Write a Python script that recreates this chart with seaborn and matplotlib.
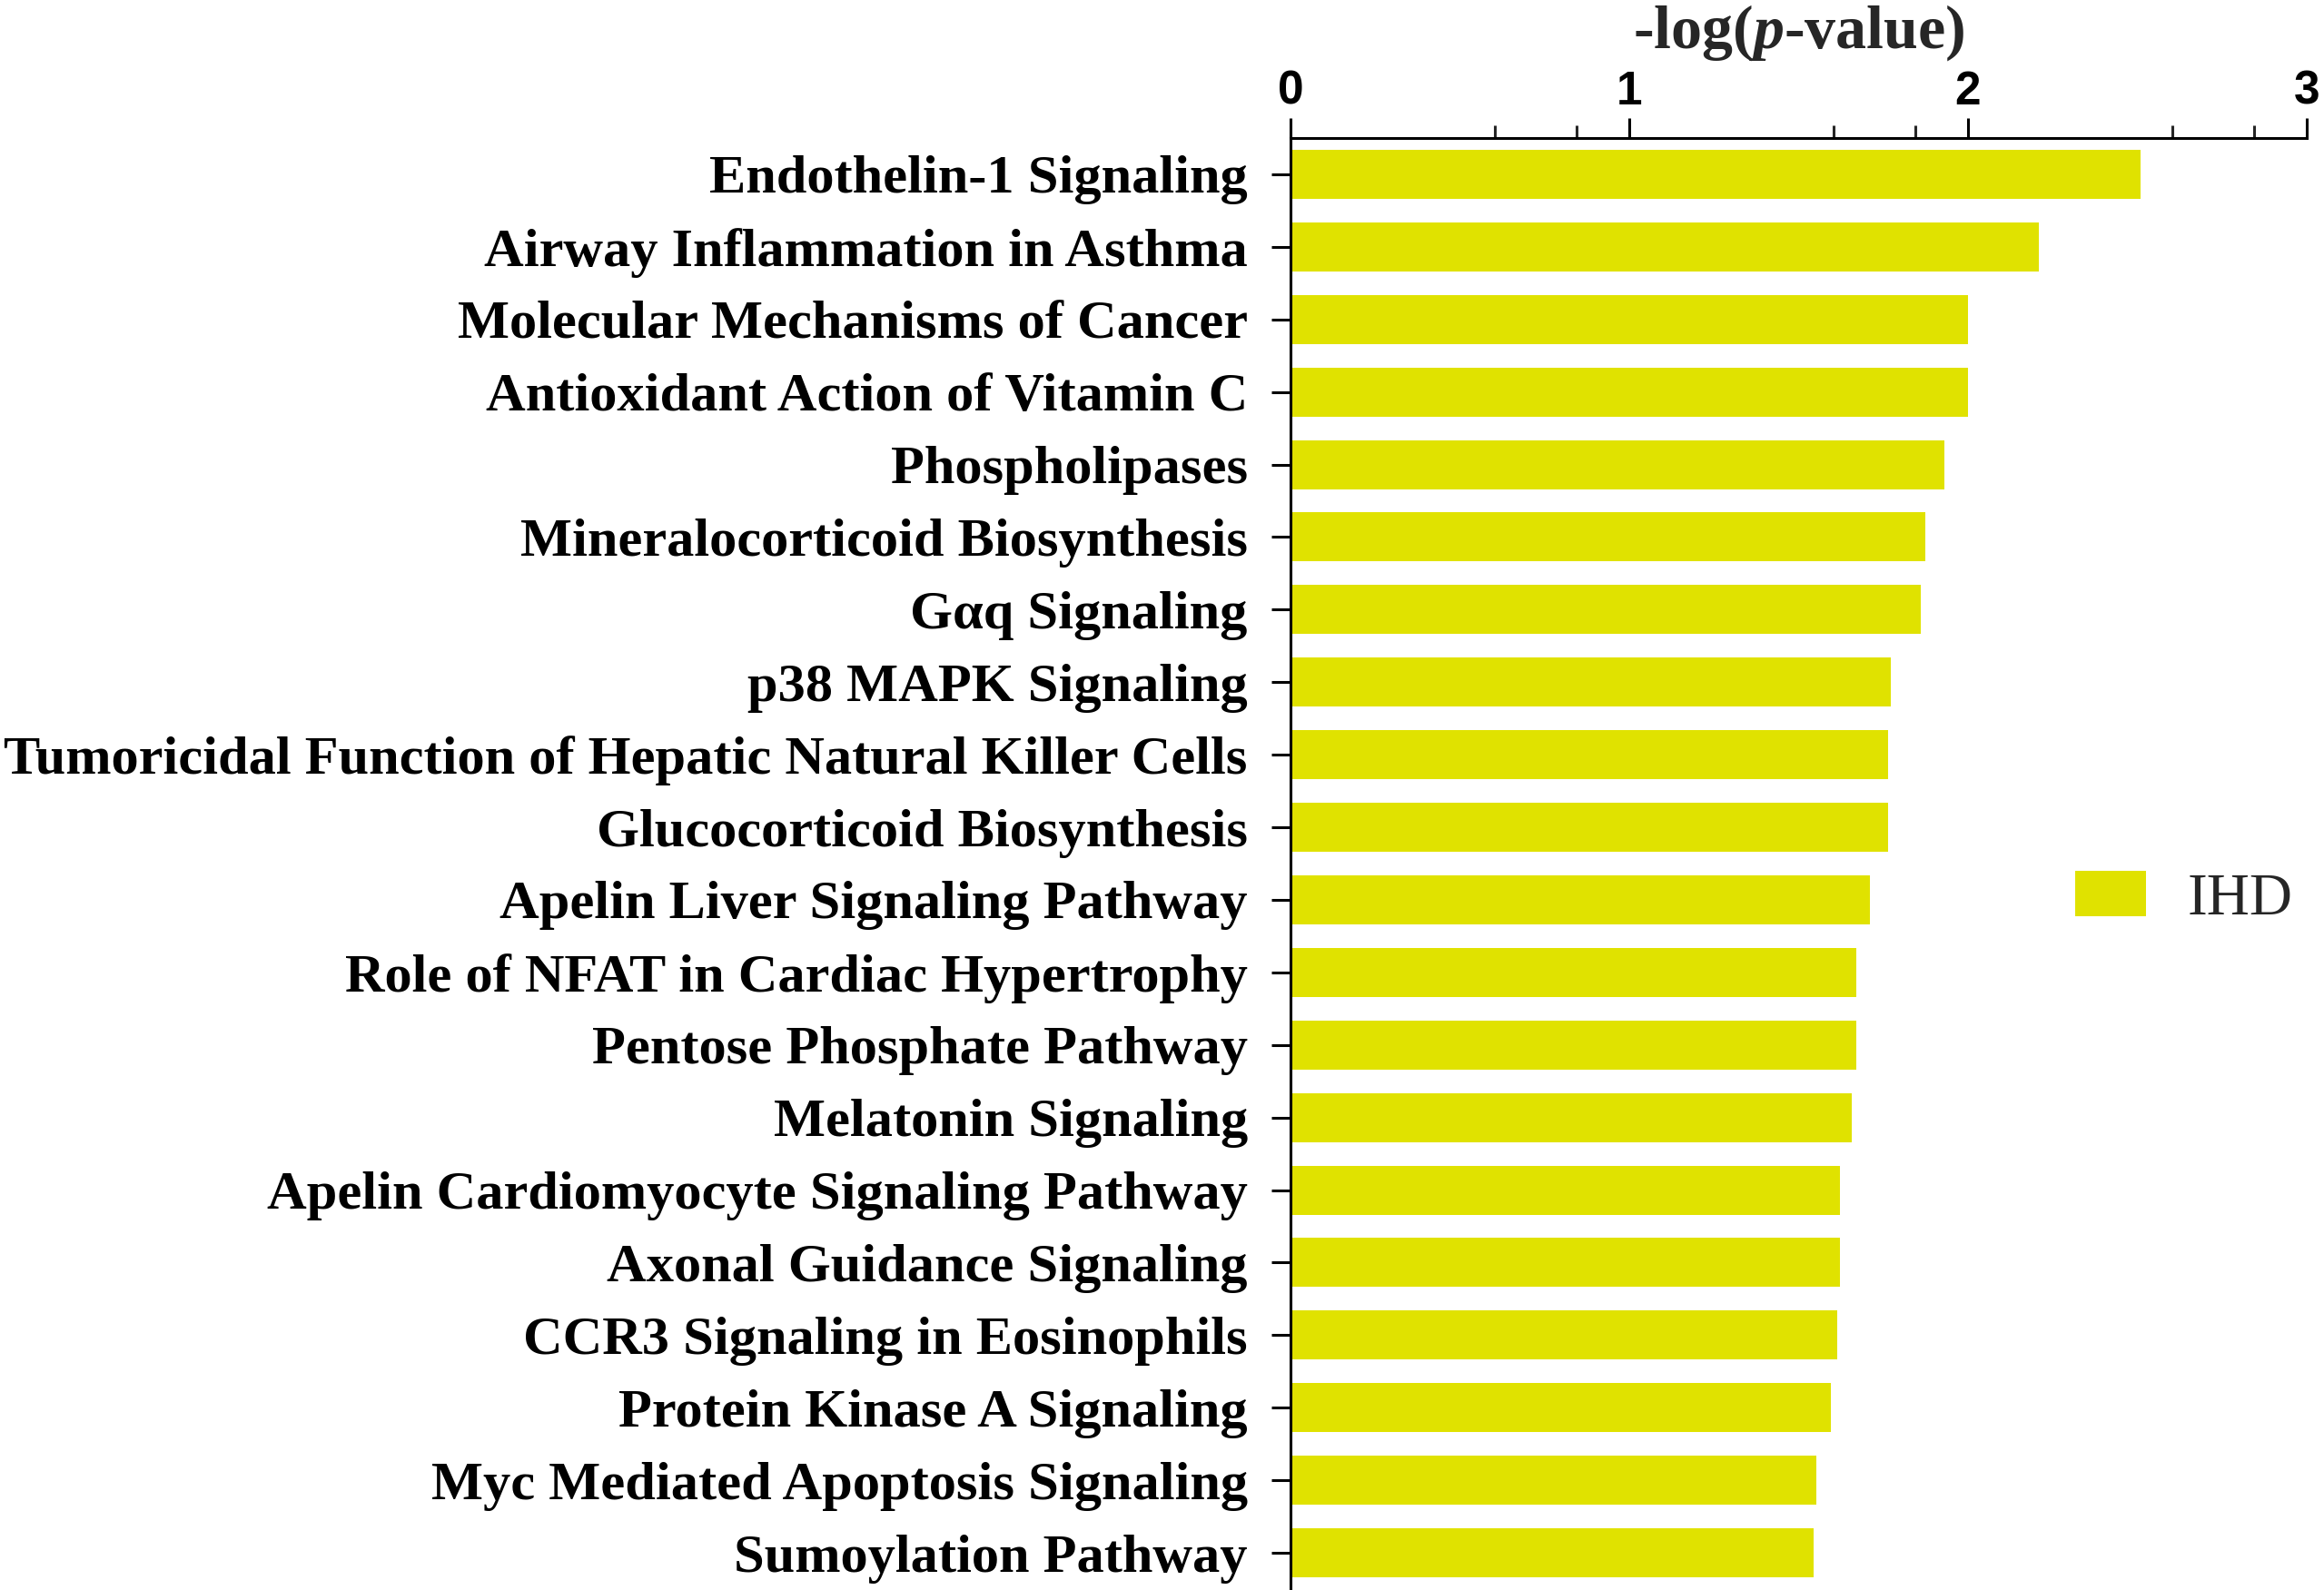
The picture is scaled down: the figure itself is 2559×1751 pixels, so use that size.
import matplotlib
matplotlib.use("Agg")
import matplotlib.pyplot as plt
import seaborn as sns
import pandas as pd
from matplotlib.ticker import FixedLocator

pathways = [
    "Endothelin-1 Signaling",
    "Airway Inflammation in Asthma",
    "Molecular Mechanisms of Cancer",
    "Antioxidant Action of Vitamin C",
    "Phospholipases",
    "Mineralocorticoid Biosynthesis",
    "G\u03b1q Signaling",
    "p38 MAPK Signaling",
    "Tumoricidal Function of Hepatic Natural Killer Cells",
    "Glucocorticoid Biosynthesis",
    "Apelin Liver Signaling Pathway",
    "Role of NFAT in Cardiac Hypertrophy",
    "Pentose Phosphate Pathway",
    "Melatonin Signaling",
    "Apelin Cardiomyocyte Signaling Pathway",
    "Axonal Guidance Signaling",
    "CCR3 Signaling in Eosinophils",
    "Protein Kinase A Signaling",
    "Myc Mediated Apoptosis Signaling",
    "Sumoylation Pathway",
]
neg_log_p = [2.51, 2.21, 2.00, 2.00, 1.93, 1.873, 1.86, 1.772, 1.763, 1.763,
             1.71, 1.671, 1.671, 1.658, 1.623, 1.623, 1.614, 1.594, 1.553, 1.543]
series_name = "IHD"
x_ticks = [0, 1, 2, 3]
x_minor = [0.602, 0.845, 1.602, 1.845, 2.602, 2.845]
bar_color = "#e0e200"

df = pd.DataFrame({"pathway": pathways, "value": neg_log_p,
                   "group": [series_name] * len(pathways)})

sns.set_style("white")
plt.rcParams["font.family"] = ["Liberation Serif", "DejaVu Serif"]
plt.rcParams["mathtext.fontset"] = "custom"
plt.rcParams["mathtext.rm"] = "Liberation Serif:bold"
plt.rcParams["mathtext.it"] = "Liberation Serif:bold:italic"

W, H = 2559, 1751
fig = plt.figure(figsize=(W / 100, H / 100), dpi=100)
ax = fig.add_axes([1421 / W, 1 - 1750 / H, (2540 - 1421) / W, (1750 - 152) / H])

sns.barplot(data=df, x="value", y="pathway", hue="group", palette=[bar_color],
            width=0.675, dodge=False, ax=ax, legend=True, saturation=1,
            linewidth=0)

ax.set_xlim(0, 3)
ax.set_ylim(len(pathways) - 0.5, -0.5)
ax.xaxis.tick_top()
ax.set_xticks(x_ticks)
ax.xaxis.set_minor_locator(FixedLocator(x_minor))
ax.set_xticklabels([str(t) for t in x_ticks], fontsize=37, fontweight="bold",
                   family="Liberation Sans")
ax.set_yticks(range(len(pathways)))
ax.set_yticklabels(pathways, fontsize=43.5, fontweight="bold")
ax.set_xlabel("")
ax.set_ylabel("")

for s in ["bottom", "right"]:
    ax.spines[s].set_visible(False)
for s in ["top", "left"]:
    ax.spines[s].set_linewidth(2.2)
    ax.spines[s].set_color("black")

ax.tick_params(axis="x", which="major", top=True, bottom=False, length=16,
               width=2.2, pad=3, colors="black")
ax.tick_params(axis="x", which="minor", top=True, bottom=False, length=10,
               width=2.2)
ax.tick_params(axis="y", which="major", left=True, length=15, width=2.2,
               pad=19, colors="black")

fig.text(1981 / W, 1 - 36 / H, r"-log($p$-value)", ha="center", va="center",
         fontsize=49, fontweight="bold")

handles, labels = ax.get_legend_handles_labels()
ax.legend(handles, labels, loc="center left",
          bbox_to_anchor=(2285 / W, 1 - 990 / H), bbox_transform=fig.transFigure,
          frameon=False, fontsize=47, handlelength=1.2, handleheight=0.8,
          handletextpad=0.7, borderpad=0, borderaxespad=0)

fig.savefig("out.png", dpi=100)
